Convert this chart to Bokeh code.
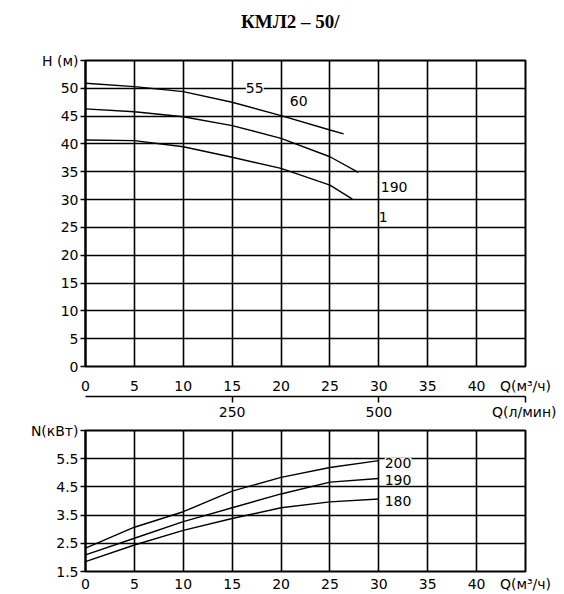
from bokeh.plotting import figure
from bokeh.models import Range1d, LinearAxis, FixedTicker, Label, Div
from bokeh.layouts import column
from bokeh.embed import file_html
from bokeh.resources import INLINE

# ---- data ----
title_text = "КМЛ2 – 50/"
q_ticks = [0, 5, 10, 15, 20, 25, 30, 35, 40, 45]
h_ticks = [0, 5, 10, 15, 20, 25, 30, 35, 40, 45, 50, 55]
n_ticks = [1.5, 2.5, 3.5, 4.5, 5.5, 6.5]
lpm_ticks = [250, 500, 750]

qa = [0, 5, 10, 15, 20, 25, 26.4]
ha = [50.9, 50.3, 49.4, 47.5, 45.1, 42.5, 41.8]
qb = [0, 5, 10, 15, 20, 25, 27.9]
hb = [46.3, 45.8, 44.9, 43.3, 41.0, 37.7, 34.9]
qc = [0, 5, 10, 15, 20, 25, 27.3]
hc = [40.7, 40.6, 39.5, 37.6, 35.6, 32.6, 30.1]

qn = [0, 5, 10, 15, 20, 25, 30]
n200 = [2.33, 3.07, 3.62, 4.35, 4.84, 5.19, 5.43]
n190 = [2.09, 2.68, 3.27, 3.76, 4.25, 4.67, 4.80]
n180 = [1.85, 2.44, 2.96, 3.38, 3.76, 3.97, 4.07]

top_labels = ["55", "60", "190", "1"]
bottom_labels = ["200", "190", "180"]

FONT = "DejaVu Sans"
FS = "14px"


def style(p, xt, yt, xover, yover):
    p.background_fill_color = "white"
    p.border_fill_color = "white"
    p.outline_line_color = "black"
    p.outline_line_width = 2
    p.xaxis.ticker = FixedTicker(ticks=xt)
    p.yaxis.ticker = FixedTicker(ticks=yt)
    p.xgrid.ticker = FixedTicker(ticks=xt)
    p.ygrid.ticker = FixedTicker(ticks=yt)
    for g in (p.xgrid, p.ygrid):
        g.grid_line_color = "black"
        g.grid_line_width = 1.6
        g.grid_line_alpha = 1
    p.xaxis.major_label_overrides = xover
    p.yaxis.major_label_overrides = yover
    for ax in (p.xaxis, p.yaxis):
        ax.minor_tick_line_color = None
        ax.major_tick_in = 0
        ax.major_label_text_font = FONT
        ax.major_label_text_font_size = FS
        ax.major_label_text_color = "black"
        ax.axis_line_color = "black"
        ax.axis_line_width = 2
        ax.major_tick_line_color = "black"
        ax.major_tick_line_width = 1.5
    p.xaxis.major_tick_out = 0
    p.xaxis.axis_line_color = None
    p.yaxis.major_tick_out = 5
    p.yaxis.major_label_standoff = 2


xover = {t: str(t) for t in q_ticks}
xover[45] = "Q(м³/ч)"

title_div = Div(
    text=('<div style="font-family:\'Liberation Serif\';font-weight:bold;font-size:19px;'
          'line-height:28px;padding-top:8px;padding-left:241px;color:black;white-space:nowrap;">'
          + title_text + '</div>'),
    width=556, height=44, margin=0)

p1 = figure(width=556, height=378, x_range=Range1d(0, 45), y_range=Range1d(0, 55),
            output_backend="svg", toolbar_location=None,
            min_border_left=85, min_border_right=31, min_border_top=16, min_border_bottom=56)
hover = {t: str(t) for t in h_ticks}
hover[55] = "H (м)"
style(p1, q_ticks, h_ticks, xover, hover)
p1.xaxis.major_label_standoff = 11

p1.extra_x_ranges = {"lpm": Range1d(0, 750)}
ax2 = LinearAxis(x_range_name="lpm", ticker=FixedTicker(ticks=lpm_ticks),
                 major_label_overrides={250: "250", 500: "500", 750: "Q(л/мин)"})
ax2.minor_tick_line_color = None
ax2.major_tick_in = 0
ax2.major_tick_out = 6
ax2.major_label_standoff = 1
ax2.axis_line_color = "black"
ax2.axis_line_width = 1.5
ax2.major_tick_line_width = 1.5
ax2.major_label_text_font = FONT
ax2.major_label_text_font_size = FS
ax2.major_label_text_color = "black"
p1.add_layout(ax2, "below")

for xs, ys in ((qa, ha), (qb, hb), (qc, hc)):
    p1.line(xs, ys, line_color="black", line_width=1.4)

lab_kw = dict(text_font=FONT, text_font_size=FS, text_color="black",
              text_baseline="middle", text_align="left")
p1.add_layout(Label(x=16.4, y=50.0, text=top_labels[0], background_fill_color="white", **lab_kw))
p1.add_layout(Label(x=20.9, y=47.7, text=top_labels[1], **lab_kw))
p1.add_layout(Label(x=30.2, y=32.2, text=top_labels[2], **lab_kw))
p1.add_layout(Label(x=30.0, y=26.8, text=top_labels[3], **lab_kw))

p2 = figure(width=556, height=172, x_range=Range1d(0, 45), y_range=Range1d(1.5, 6.5),
            output_backend="svg", toolbar_location=None,
            min_border_left=85, min_border_right=31, min_border_top=8, min_border_bottom=20)
nover = {t: f"{t:.1f}" for t in n_ticks}
nover[6.5] = "N(кВт)"
style(p2, q_ticks, n_ticks, xover, nover)
p2.xaxis.major_label_standoff = 4

for ys in (n200, n190, n180):
    p2.line(qn, ys, line_color="black", line_width=1.4)

p2.add_layout(Label(x=30.6, y=5.36, text=bottom_labels[0], background_fill_color="white", **lab_kw))
p2.add_layout(Label(x=30.6, y=4.73, text=bottom_labels[1], **lab_kw))
p2.add_layout(Label(x=30.6, y=4.00, text=bottom_labels[2], **lab_kw))

layout = column(title_div, p1, p2, spacing=0)
open("out.html", "w").write(file_html(layout, INLINE))
